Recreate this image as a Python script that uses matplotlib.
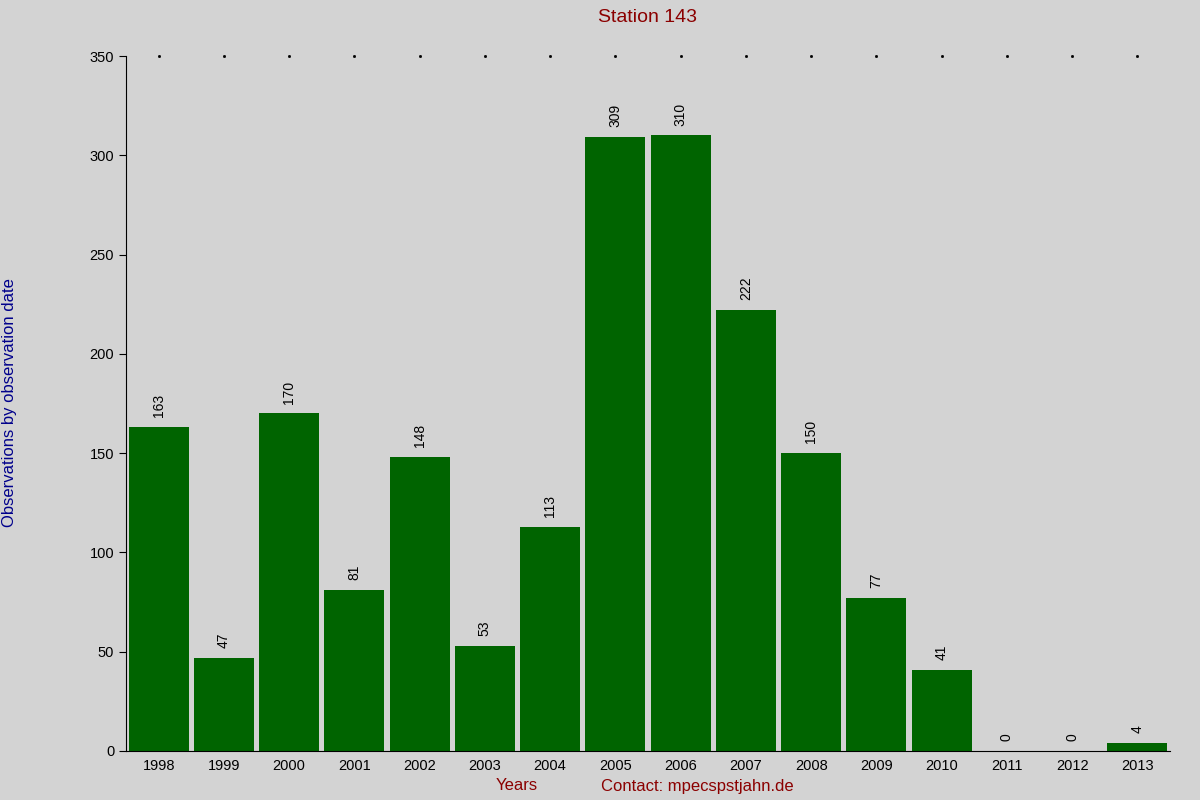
import matplotlib
matplotlib.use("Agg")
import matplotlib.pyplot as plt

years = ["1998","1999","2000","2001","2002","2003","2004","2005","2006","2007","2008","2009","2010","2011","2012","2013"]
values = [163,47,170,81,148,53,113,309,310,222,150,77,41,0,0,4]

bg = "#d3d3d3"
fig = plt.figure(figsize=(12,8), dpi=100, facecolor=bg)
ax = fig.add_axes([126/1200, 1-751/800, (1170-126)/1200, (751-56)/800], facecolor=bg)
x = list(range(len(years)))
ax.bar(x, values, width=0.92, color="#006400")
for xi, v in zip(x, values):
    ax.text(xi, v + 5, str(v), rotation=90, ha="center", va="bottom", fontsize=10, color="black", family="Liberation Sans")
ax.set_xlim(-0.5, 15.5)
ax.set_ylim(0, 350)
ax.set_xticks(x)
ax.set_xticklabels(years, family="Liberation Sans", fontsize=10.5)
ax.set_yticks(range(0, 351, 50))
ax.set_yticklabels([str(v) for v in range(0, 351, 50)], family="Liberation Sans", fontsize=10.5)
ax.tick_params(axis="x", length=0, pad=6)
ax.tick_params(axis="y", length=5, direction="out")
for s in ["top","right"]:
    ax.spines[s].set_visible(False)
ax.plot(x, [350]*len(x), linestyle="none", marker="s", markersize=1, color="black", clip_on=False)
fig.text(0.54, 1-18/800, "Station 143", color="#8b0000", fontsize=14, ha="center", va="center", family="Liberation Sans")
fig.text(10/1200, 1-403/800, "Observations by observation date", color="#00008b", fontsize=12, rotation=90, ha="center", va="center", family="Liberation Sans")
fig.text(517/1200, 1-786/800, "Years", color="#8b0000", fontsize=12, ha="center", va="center", family="Liberation Sans")
fig.text(697/1200, 1-786/800, "Contact: mpecspstjahn.de", color="#8b0000", fontsize=12, ha="center", va="center", family="Liberation Sans")
fig.savefig("out.png", dpi=100, facecolor=bg)
